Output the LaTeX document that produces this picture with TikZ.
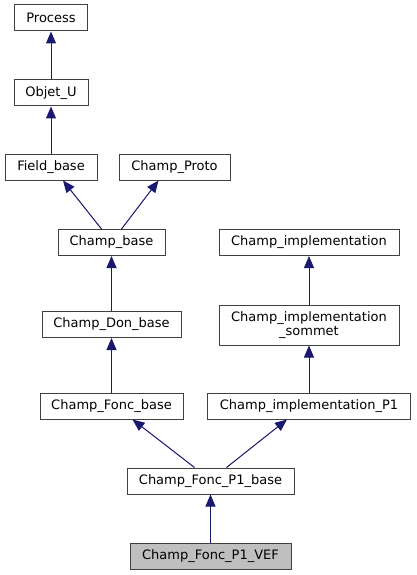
\documentclass[tikz,border=0pt]{standalone}
\usepackage{fontspec}
\setmainfont{DejaVu Sans}
\usetikzlibrary{arrows.meta}
\definecolor{edgeblue}{HTML}{191970}
\definecolor{boxgray}{HTML}{404040}
\definecolor{hilite}{HTML}{BFBFBF}
\begin{document}
\begin{tikzpicture}[x=1pt,y=-1pt,
  cls/.style={draw=boxgray, line width=1pt, fill=white, inner sep=0pt, minimum height=26pt,
    font=\fontsize{13}{14}\selectfont, align=center},
  inh/.style={draw=edgeblue, line width=1pt, -{Triangle[length=12pt,width=10pt]}, fill=edgeblue}]
\useasboundingbox (0,0) rectangle (416,575);
\node[cls, minimum width=73pt] (proc) at (51,18) {Process};
\node[cls, minimum width=74pt] (obj) at (51,93) {Objet\_U};
\node[cls, minimum width=92pt] (fb) at (51,167) {Field\_base};
\node[cls, minimum width=111pt] (cp) at (174.5,167) {Champ\_Proto};
\node[cls, minimum width=107pt] (cb) at (111.5,242.5) {Champ\_base};
\node[cls, minimum width=180pt] (ci) at (309,242.5) {Champ\_implementation};
\node[cls, minimum width=139pt] (cdb) at (111.5,324.5) {Champ\_Don\_base};
\node[cls, minimum width=180pt, minimum height=40pt] (cis) at (309,325) {Champ\_implementation\\\_sommet};
\node[cls, minimum width=143pt] (cfb) at (111.5,406) {Champ\_Fonc\_base};
\node[cls, minimum width=203pt] (cip) at (309,406) {Champ\_implementation\_P1};
\node[cls, minimum width=167pt] (cfpb) at (210.5,481) {Champ\_Fonc\_P1\_base};
\node[cls, minimum width=161pt, fill=hilite] (vef) at (210.5,556) {Champ\_Fonc\_P1\_VEF};
\draw[inh] (obj) -- (proc);
\draw[inh] (fb) -- (obj);
\draw[inh] ([xshift=-10pt]cb.north) -- ([xshift=12pt]fb.south);
\draw[inh] ([xshift=10pt]cb.north) -- ([xshift=-16pt]cp.south);
\draw[inh] (cdb) -- (cb);
\draw[inh] (cis) -- (ci);
\draw[inh] (cfb) -- (cdb);
\draw[inh] (cip) -- (cis);
\draw[inh] ([xshift=-16pt]cfpb.north) -- ([xshift=21pt]cfb.south);
\draw[inh] ([xshift=16pt]cfpb.north) -- ([xshift=-22pt]cip.south);
\draw[inh] (vef) -- (cfpb);
\end{tikzpicture}
\end{document}
